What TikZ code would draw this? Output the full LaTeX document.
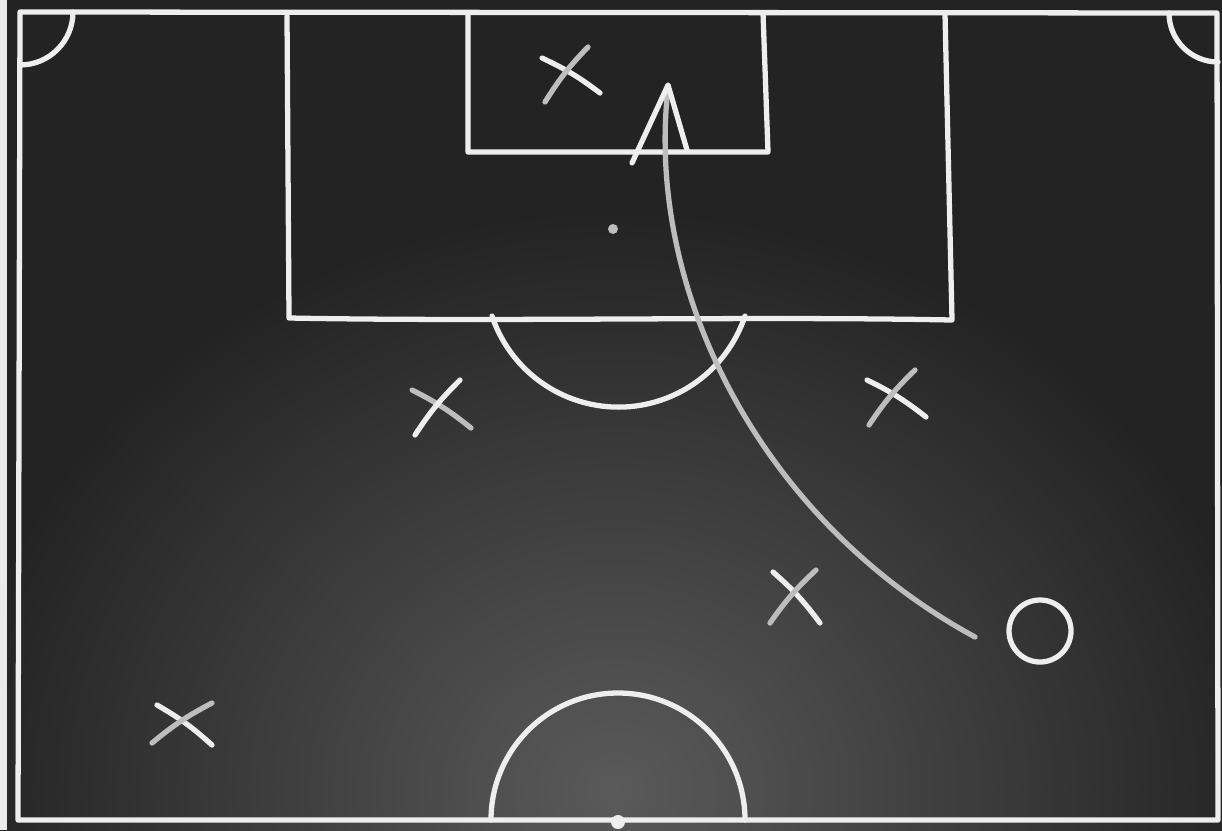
\documentclass[tikz,border=0pt]{standalone}
\definecolor{board}{HTML}{232323}
\definecolor{glow}{HTML}{5A5A5A}
\definecolor{edge}{HTML}{EBEBEB}
\definecolor{chalkwhite}{HTML}{EEEEEE}
\definecolor{chalkgray}{HTML}{BDBDBD}
\begin{document}
\begin{tikzpicture}[x=0.01cm, y=-0.01cm,
  chalk/.style={draw=chalkwhite, line width=1.5pt, line cap=round, line join=round},
  soft/.style={draw=chalkgray, line width=1.5pt, line cap=round, line join=round}]
  \useasboundingbox (0,0) rectangle (1222,830);
  % доска и подсветка снизу
  \fill[board] (0,0) rectangle (1222,830);
  \begin{scope}
    \clip (0,0) rectangle (1222,830);
    \shade[inner color=glow, outer color=board] (615,790) ellipse (660 and 580);
  \end{scope}
  \fill[edge] (0,0) rectangle (7,830);
  % границы поля
  \draw[chalk] (20,12) -- (1217,13) -- (1218,820) -- (18,820) -- cycle;
  % угловые дуги
  \draw[chalk] (73,12) arc[start angle=0, end angle=90, radius=53];
  \draw[chalk] (1169,13) arc[start angle=180, end angle=90, radius=49];
  % штрафная площадь
  \draw[chalk] (287,16) -- (289,318) .. controls (500,322) and (750,316) .. (952,320) -- (945,14);
  % вратарская
  \draw[chalk] (468,13) -- (468,152) -- (768,152) -- (763,13);
  % точка пенальти и дуга
  \fill[chalkgray] (613,229) circle (5);
  \draw[chalk] (745,316) arc[start angle=18.5, end angle=161.5, radius=133.4];
  % центральный круг и центр
  \draw[chalk] (491,820) arc[start angle=180, end angle=360, radius=127];
  \fill[chalkwhite] (618,822) circle (7);
  % игроки
  \draw[chalk] (542,58) to[bend left=6] (600,93);
  \draw[soft]  (588,47) to[bend right=6] (545,102);
  \draw[soft]  (412,390) to[bend left=6] (471,428);
  \draw[chalk] (460,380) to[bend right=6] (415,435);
  \draw[chalk] (867,380) to[bend left=6] (926,417);
  \draw[soft]  (915,370) to[bend right=6] (869,425);
  \draw[chalk] (773,572) to[bend left=6] (820,623);
  \draw[soft]  (816,570) to[bend right=6] (770,623);
  \draw[chalk] (157,705) to[bend left=6] (212,745);
  \draw[soft]  (212,703) to[bend right=6] (152,743);
  % мяч и траектория удара
  \draw[chalk] (1040,631) circle (31);
  \draw[soft] (975,637) .. controls (760,520) and (645,290) .. (668,88);
  \draw[chalk] (632,163) -- (668,85) -- (687,150);
\end{tikzpicture}
\end{document}
